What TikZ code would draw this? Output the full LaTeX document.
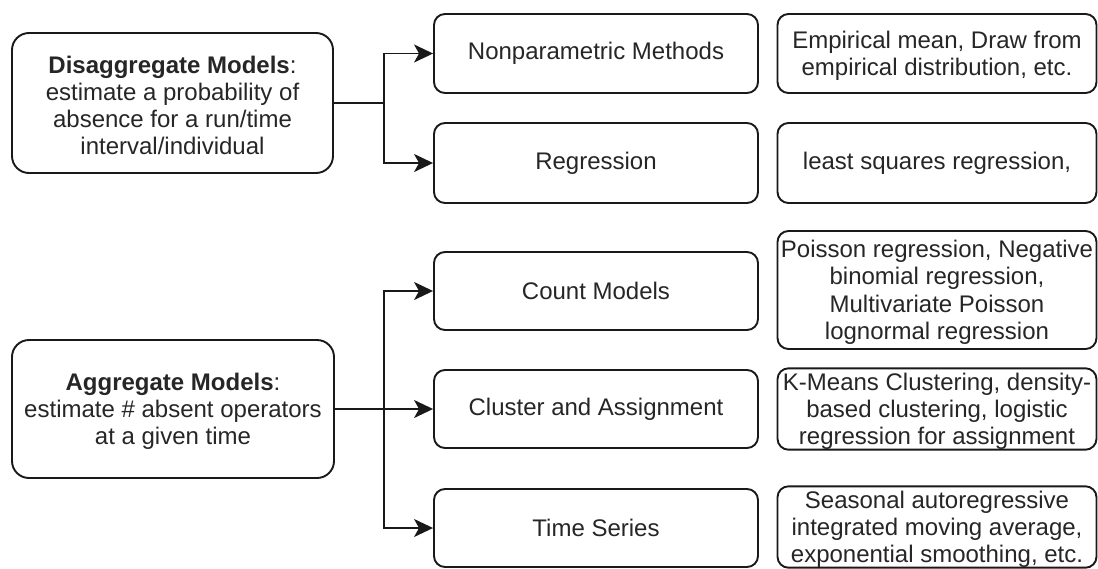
\documentclass[tikz,border=0pt]{standalone}
\usepackage{fontspec}
\setmainfont{Liberation Sans}
\usetikzlibrary{arrows.meta}
\tikzset{
  box/.style={draw=black!90, line width=1.9pt, rounded corners=11pt, fill=white,
    inner sep=0pt, align=center, text=black!85,
    font=\fontsize{24}{27.2}\selectfont},
  bigbox/.style={box, rounded corners=17pt},
  link/.style={draw=black!90, line width=1.9pt},
  arr/.style={link, -{Stealth[length=19pt,width=18pt,inset=5pt]}}
}
% a strut that lowers a text block slightly inside its box
\newcommand{\toppad}{\rule{0pt}{22pt}}
\begin{document}
\begin{tikzpicture}[x=1pt,y=-1pt]
\useasboundingbox[fill=white] (0,0) rectangle (1098,568);

% left column: the two model families
\node[bigbox, minimum width=321pt, minimum height=140pt] (dis) at (172.5,103)
  {\toppad\textbf{Disaggregate Models}:\\estimate a probability of\\absence for a run/time\\interval/individual};
\node[bigbox, minimum width=322pt, minimum height=138pt] (agg) at (173,409)
  {\toppad\textbf{Aggregate Models}:\\estimate \# absent operators\\at a given time};

% middle column: method groups
\node[box, minimum width=324pt, minimum height=79pt] (np)  at (596,53.5) {Nonparametric Methods};
\node[box, minimum width=324pt, minimum height=80pt] (reg) at (596,163)  {Regression};
\node[box, minimum width=324pt, minimum height=78pt] (cnt) at (596,291)  {Count Models};
\node[box, minimum width=324pt, minimum height=78pt] (clu) at (596,409)  {Cluster and Assignment};
\node[box, minimum width=324pt, minimum height=78pt] (ts)  at (596,528)  {Time Series};

% right column: example techniques
\node[box, minimum width=319pt, minimum height=79pt] (e1) at (937,53.5)
  {\toppad Empirical mean, Draw from\\empirical distribution, etc.};
\node[box, minimum width=319pt, minimum height=80pt] (e2) at (937,163)
  {least squares regression,};
\node[box, minimum width=319pt, minimum height=118pt] (e3) at (937,290)
  {\toppad Poisson regression, Negative\\binomial regression,\\Multivariate Poisson\\lognormal regression};
\node[box, minimum width=319pt, minimum height=78pt] (e4) at (937,409)
  {\toppad K-Means Clustering, density-\\based clustering, logistic\\regression for assignment};
\node[box, minimum width=319pt, minimum height=79pt] (e5) at (937,527)
  {\toppad Seasonal autoregressive\\integrated moving average,\\exponential smoothing, etc.};

% branching connectors
\coordinate (j1) at (384,103);
\coordinate (j2) at (384,409);
\draw[link] (dis.east) -- (j1);
\draw[arr] (j1) |- (np.west);
\draw[arr] (j1) |- (reg.west);
\draw[link] (agg.east) -- (j2);
\draw[arr] (j2) |- (cnt.west);
\draw[arr] (j2) -- (clu.west);
\draw[arr] (j2) |- (ts.west);
\end{tikzpicture}
\end{document}
